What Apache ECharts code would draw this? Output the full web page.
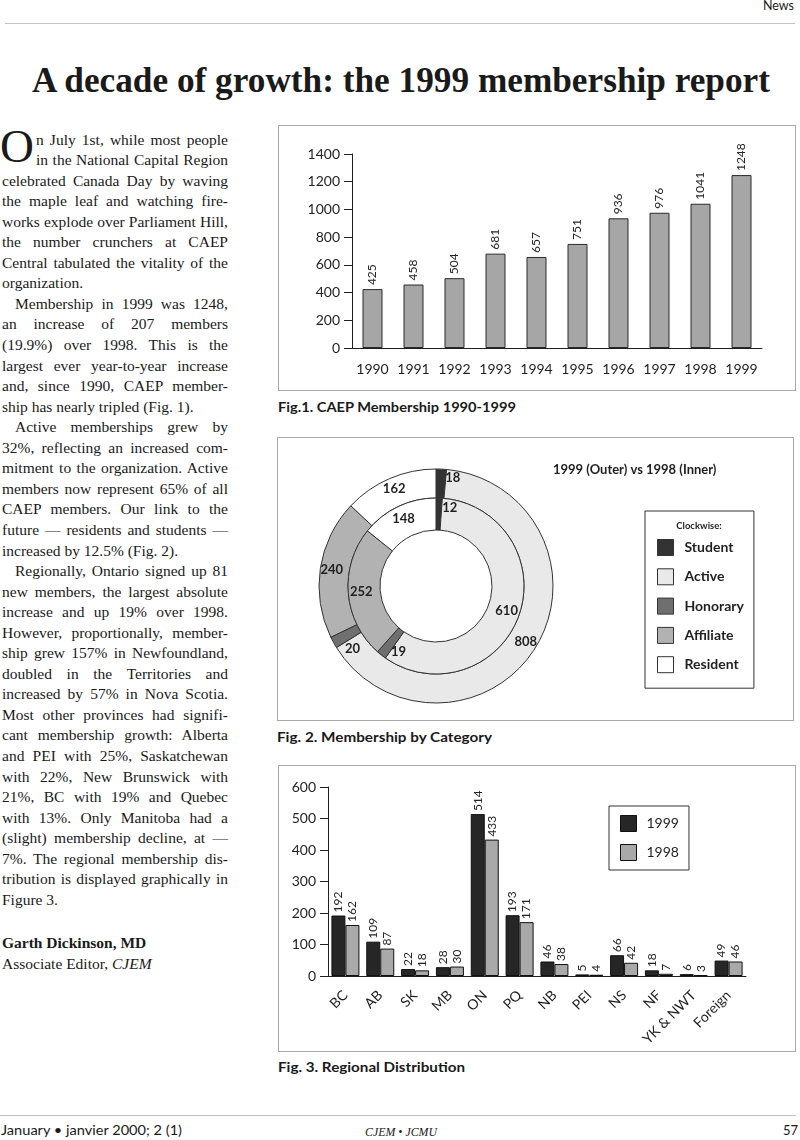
<!DOCTYPE html>
<html>
<head>
<meta charset="utf-8">
<script src="https://cdn.jsdelivr.net/npm/echarts@6/dist/echarts.min.js"></script>
<style>
  html, body { margin:0; padding:0; background:#fff; }
  #page { position:relative; width:800px; height:1140px; overflow:hidden; background:#fff; color:#1a1a1a; }
  .abs { position:absolute; white-space:nowrap; }
  .sans { font-family: Lato, "Open Sans", sans-serif; }
  .serif { font-family: "Liberation Serif", "Times New Roman", serif; }
  .rule { position:absolute; height:0; border-top:1.5px solid #c4c4c4; }
  .ln { position:absolute; left:2px; width:226px; height:20.55px; line-height:20.55px; font-size:15.5px;
        font-family:"Liberation Serif", serif; color:#1a1a1a; white-space:normal; overflow:visible; }
  .ln.j { text-align:justify; text-align-last:justify; }
  .ln.l { text-align:left; }
  .box { position:absolute; border:1px solid #a8a8a8; box-sizing:border-box; }
  .cap { font-family: Lato, sans-serif; font-weight:700; font-size:13px; line-height:16px; color:#1a1a1a; }
</style>
</head>
<body>
<div id="page">
  <div class="abs sans" id="news" style="right:6px; top:-2px; font-size:12.5px; line-height:15px;">News</div>
  <div class="rule" style="left:5px; width:790px; top:23px;"></div>

  <div class="abs serif" id="title" style="left:32px; top:61.5px; font-size:36px; line-height:36px; font-weight:700; transform-origin:0 0;">A decade of growth: the 1999 membership report</div>

  <div class="abs serif" style="left:0px; top:123px; font-size:47px; line-height:47px;">O</div>
  <div id="article"></div>

  <div class="box" id="fig1" style="left:278px; top:125px; width:518px; height:266px;"></div>
  <div class="abs cap" id="cap1" style="left:278px; top:399px;">Fig.1. CAEP Membership 1990-1999</div>

  <div class="box" id="fig2" style="left:277px; top:437px; width:517px; height:284px;"></div>
  <div class="abs cap" id="cap2" style="left:277px; top:729px;">Fig. 2. Membership by Category</div>

  <div class="box" id="fig3" style="left:278px; top:765px; width:518px; height:287px;"></div>
  <div class="abs cap" id="cap3" style="left:278px; top:1059px;">Fig. 3. Regional Distribution</div>

  <div class="rule" style="left:0px; width:796px; top:1115px;"></div>
  <div class="abs sans" id="foot1" style="left:1px; top:1122.5px; font-size:12.5px; line-height:15px;">January • janvier 2000; 2 (1)</div>
  <div class="abs serif" id="foot2" style="left:365px; top:1125px; font-size:12.5px; line-height:14px; font-style:italic;">CJEM • JCMU</div>
  <div class="abs sans" style="right:2px; top:1122px; font-size:13px; line-height:16px;">57</div>
</div>

<script>
// ---------------- DATA ----------------
const years = ['1990','1991','1992','1993','1994','1995','1996','1997','1998','1999'];
const membership = [425, 458, 504, 681, 657, 751, 936, 976, 1041, 1248];

const categories = ['Student','Active','Honorary','Affiliate','Resident'];
const members1999 = [18, 808, 20, 240, 162];
const members1998 = [12, 610, 19, 252, 148];

const regions = ['BC','AB','SK','MB','ON','PQ','NB','PEI','NS','NF','YK & NWT','Foreign'];
const regional1999 = [192, 109, 22, 28, 514, 193, 46, 5, 66, 18, 6, 49];
const regional1998 = [162, 87, 18, 30, 433, 171, 38, 4, 42, 7, 3, 46];

// ---------------- ARTICLE TEXT ----------------
const paragraphs = [
  ['n July 1st, while most people','in the National Capital Region','celebrated Canada Day by waving','the maple leaf and watching fire-','works explode over Parliament Hill,','the number crunchers at CAEP','Central tabulated the vitality of the','organization.'],
  ['Membership in 1999 was 1248,','an increase of 207 members','(19.9%) over 1998. This is the','largest ever year-to-year increase','and, since 1990, CAEP member-','ship has nearly tripled (Fig. 1).'],
  ['Active memberships grew by','32%, reflecting an increased com-','mitment to the organization. Active','members now represent 65% of all','CAEP members. Our link to the','future — residents and students —','increased by 12.5% (Fig. 2).'],
  ['Regionally, Ontario signed up 81','new members, the largest absolute','increase and up 19% over 1998.','However, proportionally, member-','ship grew 157% in Newfoundland,','doubled in the Territories and','increased by 57% in Nova Scotia.','Most other provinces had signifi-','cant membership growth: Alberta','and PEI with 25%, Saskatchewan','with 22%, New Brunswick with','21%, BC with 19% and Quebec','with 13%. Only Manitoba had a','(slight) membership decline, at —','7%. The regional membership dis-','tribution is displayed graphically in','Figure 3.']
];
const signature = ['Garth Dickinson, MD', 'Associate Editor, '];

(function buildArticle(){
  const host = document.getElementById('article');
  const top0 = 129.5, lh = 20.55;
  let i = 0;
  paragraphs.forEach((p, pi) => {
    p.forEach((line, li) => {
      const d = document.createElement('div');
      const last = li === p.length - 1;
      d.className = 'ln ' + (last ? 'l' : 'j');
      d.textContent = line;
      d.style.top = (top0 + lh * i) + 'px';
      if (pi === 0 && li < 2) { d.style.left = '36px'; d.style.width = '192px'; }
      else if (li === 0) { d.style.paddingLeft = '13px'; d.style.width = '213px'; }
      host.appendChild(d);
      i++;
    });
  });
  const s1 = document.createElement('div');
  s1.className = 'ln l'; s1.style.fontWeight = '700';
  s1.style.top = (top0 + lh * 39 + 2.5) + 'px';
  s1.textContent = signature[0];
  host.appendChild(s1);
  const s2 = document.createElement('div');
  s2.className = 'ln l';
  s2.style.top = (top0 + lh * 40 + 2.5) + 'px';
  s2.textContent = signature[1];
  const it = document.createElement('i'); it.textContent = 'CJEM';
  s2.appendChild(it);
  host.appendChild(s2);
})();

// fit a few single-line texts to the reference widths
function fitWidth(id, w){
  const el = document.getElementById(id);
  const r = el.getBoundingClientRect().width;
  el.style.transformOrigin = '0 0';
  el.style.transform = 'scaleX(' + (w / r) + ')';
}
fitWidth('title', 738);
fitWidth('cap1', 238);
fitWidth('cap2', 215);
fitWidth('cap3', 187);
fitWidth('foot1', 181);
fitWidth('foot2', 72);

// ---------------- CHARTS ----------------
const SANS = 'Lato';
const INK = '#1f1f1f';
const plain = v => String(v);

// Fig 1
const c1 = echarts.init(document.getElementById('fig1'));
c1.setOption({
  animation: false,
  grid: { left: 73, top: 28, width: 410, height: 194 },
  xAxis: {
    type: 'category', data: years,
    axisLine: { lineStyle: { color: INK, width: 1 } },
    axisTick: { length: 8, interval: 0, lineStyle: { color: INK } },
    axisLabel: { interval: 0, fontFamily: SANS, fontSize: 14, color: INK, margin: 14 }
  },
  yAxis: {
    type: 'value', min: 0, max: 1400, interval: 200,
    axisLine: { show: true, lineStyle: { color: INK, width: 1 } },
    axisTick: { show: true, length: 8, lineStyle: { color: INK } },
    splitLine: { show: false },
    axisLabel: { formatter: plain, fontFamily: SANS, fontSize: 14, color: INK, margin: 12 }
  },
  series: [{
    type: 'bar', data: membership, barWidth: 20,
    itemStyle: { color: '#a6a6a6', borderColor: '#2a2a2a', borderWidth: 1 },
    label: { show: true, position: 'top', rotate: 90, align: 'left', verticalAlign: 'middle',
             distance: 4, fontFamily: SANS, fontSize: 12, color: INK }
  }]
});

// Fig 2
const sliceColors = ['#333333', '#e9e9e9', '#6f6f6f', '#b2b2b2', '#ffffff'];
const labelNudge = {
  outer: { Student: [12, -3], Honorary: [9, 12] },
  inner: { Student: [11, -3], Honorary: [9, 7] }
};
function ring(values, nudge){
  return categories.map((name, k) => {
    const item = { name: name, value: values[k], itemStyle: { color: sliceColors[k] } };
    if (nudge[name]) item.label = { offset: nudge[name] };
    return item;
  });
}
const pieCommon = {
  type: 'pie', center: [158, 148], startAngle: 90, clockwise: true,
  avoidLabelOverlap: false, labelLine: { show: false }, emphasis: { disabled: true },
  itemStyle: { borderColor: '#333', borderWidth: 1 },
  label: { show: true, position: 'inside', formatter: '{c}', fontFamily: SANS, fontSize: 13,
           fontWeight: 'bold', color: INK }
};
const c2 = echarts.init(document.getElementById('fig2'));
c2.setOption({
  animation: false,
  title: { text: '1999 (Outer) vs 1998 (Inner)', left: 275, top: 25, padding: 0,
           textStyle: { fontFamily: SANS, fontSize: 13, fontWeight: 'bold', color: INK } },
  legend: {
    orient: 'vertical', left: 367, top: 73, data: categories, icon: 'rect',
    itemWidth: 16, itemHeight: 16, itemGap: 12.3, padding: [28, 10, 15, 12],
    borderColor: '#333', borderWidth: 1, selectedMode: false,
    itemStyle: { borderColor: '#333', borderWidth: 1 },
    textStyle: { fontFamily: SANS, fontSize: 14, fontWeight: 'bold', color: INK, padding: [0, 0, 0, 6] }
  },
  graphic: [{ type: 'text', x: 421, y: 88,
    style: { text: 'Clockwise:', fontFamily: SANS, fontSize: 9.5, fontWeight: 'bold', fill: INK,
             textAlign: 'center', textVerticalAlign: 'middle' } }],
  series: [
    Object.assign({}, pieCommon, { name: '1999', radius: [88, 117], data: ring(members1999, labelNudge.outer) }),
    Object.assign({}, pieCommon, { name: '1998', radius: [56, 88], data: ring(members1998, labelNudge.inner) })
  ]
});

// Fig 3
const c3 = echarts.init(document.getElementById('fig3'));
const barLabel = { show: true, position: 'top', rotate: 90, align: 'left', verticalAlign: 'middle',
                   distance: 3, fontFamily: SANS, fontSize: 12, color: INK };
c3.setOption({
  animation: false,
  grid: { left: 49, top: 21, width: 418, height: 189 },
  legend: {
    orient: 'vertical', left: 330, top: 40, data: ['1999', '1998'], icon: 'rect',
    itemWidth: 16, itemHeight: 16, itemGap: 12, padding: [9, 10, 9, 11],
    borderColor: '#333', borderWidth: 1, selectedMode: false,
    itemStyle: { borderColor: '#111', borderWidth: 1 },
    textStyle: { fontFamily: SANS, fontSize: 14, color: INK, padding: [0, 0, 0, 5] }
  },
  xAxis: {
    type: 'category', data: regions,
    axisLine: { lineStyle: { color: INK, width: 1 } },
    axisTick: { length: 8, interval: 0, lineStyle: { color: INK } },
    axisLabel: { interval: 0, rotate: 45, fontFamily: SANS, fontSize: 14, color: INK, margin: 17 }
  },
  yAxis: {
    type: 'value', min: 0, max: 600, interval: 100,
    axisLine: { show: true, lineStyle: { color: INK, width: 1 } },
    axisTick: { show: true, length: 8, lineStyle: { color: INK } },
    splitLine: { show: false },
    axisLabel: { formatter: plain, fontFamily: SANS, fontSize: 14, color: INK, margin: 12 }
  },
  series: [
    { name: '1999', type: 'bar', data: regional1999, barWidth: 14, barGap: '0%',
      itemStyle: { color: '#262626', borderColor: '#111', borderWidth: 1 }, label: barLabel },
    { name: '1998', type: 'bar', data: regional1998, barWidth: 14, barGap: '0%',
      itemStyle: { color: '#a9a9a9', borderColor: '#111', borderWidth: 1 }, label: barLabel }
  ]
});
</script>
</body>
</html>
